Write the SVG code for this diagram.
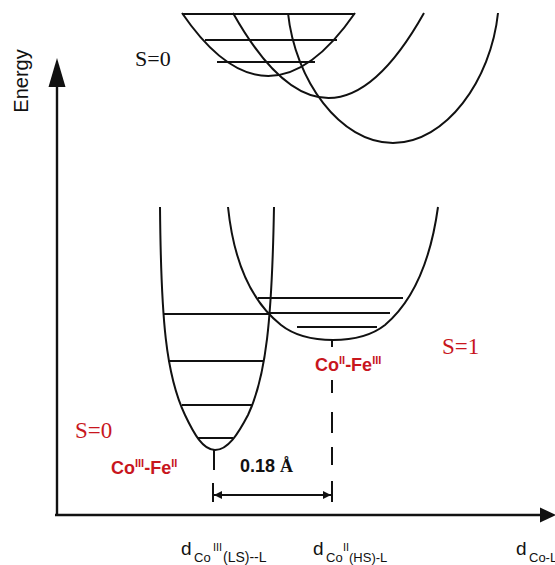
<svg xmlns="http://www.w3.org/2000/svg" width="555" height="565" viewBox="0 0 555 565">
<defs>
<style>
.c{fill:none;stroke:#111;stroke-width:2}
.lv{stroke:#111;stroke-width:2}
.ax{stroke:#111;stroke-width:2.4;fill:none}
.red{fill:#c8161d}
.sans{font-family:"Liberation Sans",Arial,sans-serif}
.serif{font-family:"Liberation Serif","Times New Roman",serif}
</style>
<marker id="ah" viewBox="0 0 10 10" refX="10" refY="5" markerWidth="8" markerHeight="8" markerUnits="userSpaceOnUse" orient="auto-start-reverse"><path d="M0,0 L10,5 L0,10 Z" fill="#111"/></marker>
</defs>
<rect width="555" height="565" fill="#fff"/>

<g id="excited">
<path class="c" d="M182,13 Q268,139 355,13"/>
<path class="c" d="M233,13 Q328.5,183 424,13"/>
<path class="c" d="M288,13 C295,80 340,143 393,143 C446,143 491,80 498,13"/>
<line class="lv" x1="182" y1="14" x2="355" y2="14"/>
<line class="lv" x1="205" y1="40" x2="337" y2="40"/>
<line class="lv" x1="217" y1="62" x2="315" y2="62"/>
<text class="serif" x="135" y="66" font-size="22" fill="#111">S=0</text>
</g>

<g id="ls-state">
<path class="c" d="M160,207 C161,320 166,375 185,415 C194,434 203,450 215,450 C228,450 238,434 248,415 C266,377 272,320 274,207"/>
<line class="lv" x1="163" y1="314" x2="270" y2="314"/>
<line class="lv" x1="168" y1="361" x2="263" y2="361"/>
<line class="lv" x1="182" y1="405" x2="253" y2="405"/>
<line class="lv" x1="198" y1="438" x2="233" y2="438"/>
<line class="lv" x1="214" y1="450" x2="214" y2="470"/>
<text class="serif red" x="75" y="438" font-size="23">S=0</text>
<text class="sans red" font-weight="bold" font-size="18"><tspan x="111" y="474">Co</tspan><tspan font-size="11" dy="-7">III</tspan><tspan font-size="18" dy="7">-Fe</tspan><tspan font-size="11" dy="-7">II</tspan></text>
</g>

<g id="hs-state">
<path class="c" d="M228,207 C234,265 252,302 281,325 C295,336 313,340 333,340 C353,340 371,336 385,325 C412,302 430,265 438,207"/>
<line class="lv" x1="258" y1="298" x2="403" y2="298"/>
<line class="lv" x1="270" y1="313" x2="390" y2="313"/>
<line class="lv" x1="297" y1="327" x2="377" y2="327"/>
<line class="lv" x1="332" y1="340" x2="332" y2="347"/>
<text class="serif red" x="442" y="354" font-size="23">S=1</text>
<text class="sans red" font-weight="bold" font-size="18"><tspan x="315" y="371">Co</tspan><tspan font-size="11" dy="-7">II</tspan><tspan font-size="18" dy="7">-Fe</tspan><tspan font-size="11" dy="-7">III</tspan></text>
</g>

<g id="connectors">
<line class="ax" x1="57" y1="516" x2="57" y2="80"/>
<path d="M57,58 L65.5,87 L48.5,87 Z" fill="#111"/>
<line class="ax" x1="55" y1="515" x2="542" y2="515"/>
<path d="M556,515 L540,507.5 L540,522.5 Z" fill="#111"/>
<path class="lv" fill="none" d="M332,380 V393 M332,412 V433 M332,447 V465 M332,481 V502"/>
<line class="lv" x1="213" y1="483" x2="213" y2="502"/>
<line x1="214" y1="495" x2="331" y2="495" stroke="#111" stroke-width="2" marker-start="url(#ah)" marker-end="url(#ah)"/>
</g>

<g id="labels" class="sans" fill="#111">
<text transform="translate(28,81) rotate(-90)" text-anchor="middle" font-size="20">Energy</text>
<text font-size="18" font-weight="bold" x="240" y="472">0.18 <tspan class="serif">Å</tspan></text>
<text><tspan x="181" y="555" font-size="19">d</tspan><tspan x="194" y="562" font-size="13">Co</tspan><tspan x="213" y="551" font-size="11">III</tspan><tspan x="223" y="562" font-size="14">(LS)--L</tspan></text>
<text><tspan x="313" y="555" font-size="19">d</tspan><tspan x="326" y="562" font-size="13">Co</tspan><tspan x="343" y="551" font-size="11">II</tspan><tspan x="349" y="562" font-size="13">(HS)-L</tspan></text>
<text><tspan x="516" y="555" font-size="19">d</tspan><tspan x="529" y="562" font-size="13">Co-L</tspan></text>
</g>
</svg>
